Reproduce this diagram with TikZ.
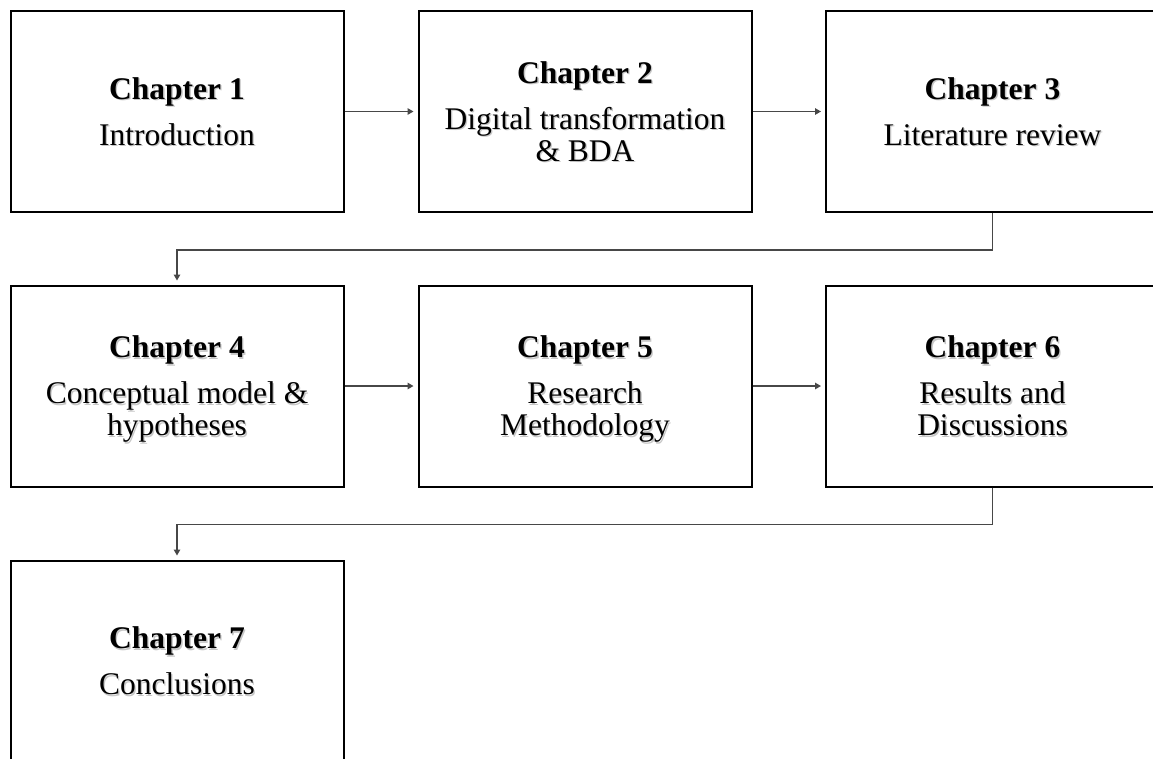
\documentclass[tikz,border=0pt]{standalone}
\usepackage{fontspec}
\setmainfont{Liberation Serif}
\usetikzlibrary{arrows.meta}

% soft grey drop shadow behind a line of text
\newcommand\shd[1]{\leavevmode\rlap{\kern1.3pt\raisebox{-1.3pt}{\color{black!22}#1}}#1}
% heading line followed by the body lines
\newcommand\chap[2]{\shd{\textbf{Chapter #1}}\\[14pt]#2}

\begin{document}
\begin{tikzpicture}[x=1pt, y=-1pt,
  chapbox/.style={draw=black, line width=2pt, fill=white,
    minimum width=333pt, minimum height=201pt, inner sep=0pt,
    align=center, text depth=0pt, font=\fontsize{31.5}{32}\selectfont},
  conn/.style={draw=black!72, line width=1.3pt,
    -{Triangle[length=6pt, width=6.5pt]}, shorten >=4pt}]

  \useasboundingbox (0,0) rectangle (1153,758);
  \fill[white] (0,0) rectangle (1153,758);
  \clip (0,0) rectangle (1153,758);

  % first row
  \node[chapbox] (c1) at (177,111.5) {\chap{1}{\shd{Introduction}}};
  \node[chapbox] (c2) at (585,111.5) {\chap{2}{\shd{Digital transformation}\\\shd{\& BDA}}};
  \node[chapbox] (c3) at (992.5,111.5) {\chap{3}{\shd{Literature review}}};

  % second row
  \node[chapbox] (c4) at (177,386) {\chap{4}{\shd{Conceptual model \&}\\\shd{hypotheses}}};
  \node[chapbox] (c5) at (585,386) {\chap{5}{\shd{Research}\\\shd{Methodology}}};
  \node[chapbox] (c6) at (992.5,386) {\chap{6}{\shd{Results and}\\\shd{Discussions}}};

  % third row
  \node[chapbox] (c7) at (177,661) {\chap{7}{\shd{Conclusions}}};

  % reading order
  \draw[conn] (c1.east) -- (c2.west);
  \draw[conn] (c2.east) -- (c3.west);
  \draw[conn] (c3.south) -- ++(0,37) -| (c4.north);
  \draw[conn] (c4.east) -- (c5.west);
  \draw[conn] (c5.east) -- (c6.west);
  \draw[conn] (c6.south) -- ++(0,37) -| (c7.north);
\end{tikzpicture}
\end{document}
